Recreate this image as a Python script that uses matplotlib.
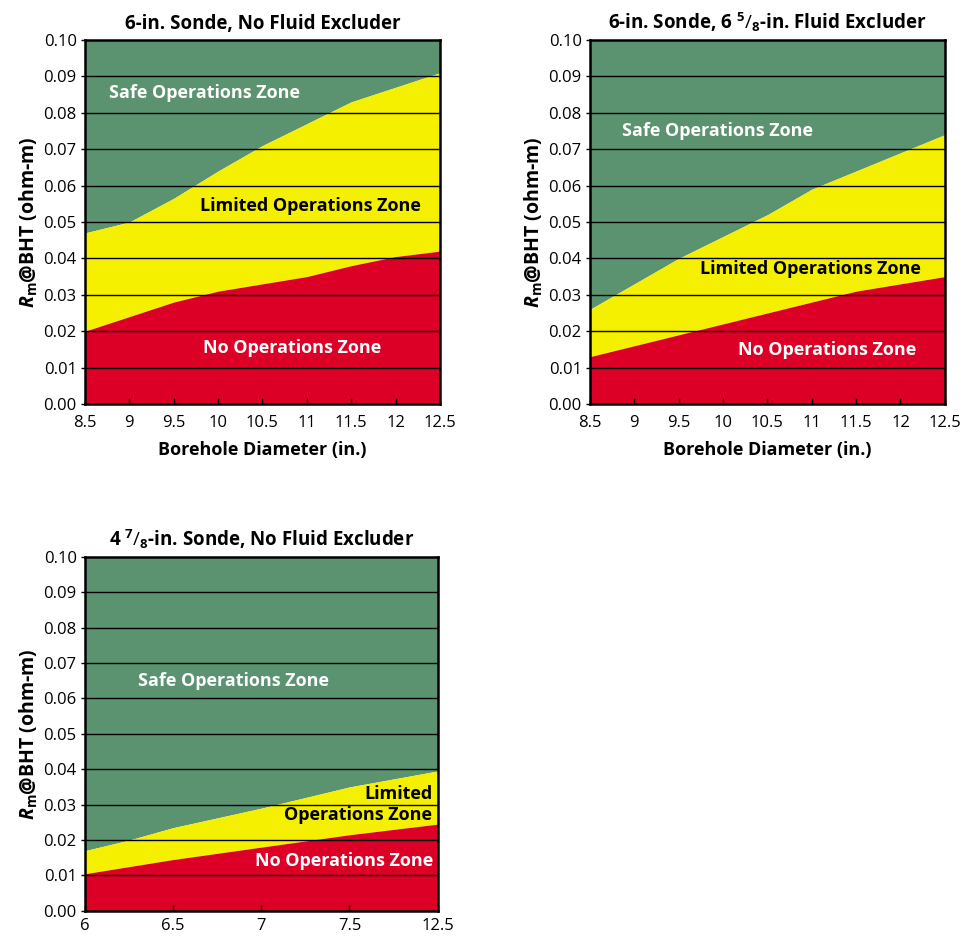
import numpy as np
import matplotlib.pyplot as plt

plt.rcParams['font.family'] = ['Open Sans', 'DejaVu Sans']
plt.rcParams['mathtext.fontset'] = 'custom'
plt.rcParams['mathtext.rm'] = 'Open Sans'
plt.rcParams['mathtext.it'] = 'Open Sans:italic'
plt.rcParams['mathtext.bf'] = 'Open Sans:bold'
plt.rcParams['mathtext.bfit'] = 'Open Sans:bold:italic'

green = '#5b9270'
yellow = '#f5f000'
red = '#dc0026'

# chart 1: 6-in. sonde, no fluid excluder
x1 = [8.5, 9.0, 9.5, 10.0, 10.5, 11.0, 11.5, 12.0, 12.5]
safe1 = [0.047, 0.050, 0.0565, 0.064, 0.071, 0.077, 0.083, 0.087, 0.091]
nogo1 = [0.020, 0.024, 0.028, 0.031, 0.033, 0.035, 0.038, 0.0405, 0.042]

# chart 2: 6-in. sonde, 6 5/8-in. fluid excluder
x2 = [8.5, 9.0, 9.5, 10.0, 10.5, 11.0, 11.5, 12.0, 12.5]
safe2 = [0.026, 0.033, 0.040, 0.046, 0.052, 0.059, 0.064, 0.069, 0.074]
nogo2 = [0.013, 0.016, 0.019, 0.022, 0.025, 0.028, 0.031, 0.033, 0.035]

# chart 3: 4 7/8-in. sonde (x labels as printed)
x3 = [6.0, 6.25, 6.5, 7.0, 7.5, 8.0]
safe3 = [0.017, 0.020, 0.0235, 0.029, 0.035, 0.0395]
nogo3 = [0.0105, 0.0125, 0.0145, 0.018, 0.0215, 0.0245]
x3_ticks = [6, 6.5, 7, 7.5, 8]
x3_labels = ['6', '6.5', '7', '7.5', '12.5']

x12_ticks = [8.5, 9, 9.5, 10, 10.5, 11, 11.5, 12, 12.5]
x12_labels = ['8.5', '9', '9.5', '10', '10.5', '11', '11.5', '12', '12.5']
y_ticks = np.arange(0, 0.1001, 0.01)

ylab = r'$\mathbfit{R}_\mathbf{m}$@BHT (ohm-m)'
bsize = 13

fig = plt.figure(figsize=(9.67, 9.41), dpi=100)


def zone_chart(ax, x, safe, nogo, title, xt, xl, xpad=8):
    ax.fill_between(x, safe, 0.1, color=green, lw=0)
    ax.fill_between(x, nogo, safe, color=yellow, lw=0)
    ax.fill_between(x, 0, nogo, color=red, lw=0)
    for v in y_ticks[1:-1]:
        ax.axhline(v, color='black', lw=1.0, zorder=3)
    ax.set_xlim(x[0], x[-1])
    ax.set_ylim(0, 0.1)
    ax.set_yticks(y_ticks)
    ax.set_yticklabels(['%.2f' % v for v in y_ticks])
    ax.set_xticks(xt)
    ax.set_xticklabels(xl)
    ax.tick_params(axis='x', direction='in', length=4, width=1, labelsize=12, pad=xpad)
    ax.tick_params(axis='y', direction='out', length=3, width=1, labelsize=12, pad=3)
    for s in ax.spines.values():
        s.set_linewidth(1.8)
        s.set_zorder(4)
    ax.set_title(title, fontsize=13.5, fontweight='bold', pad=8)
    ax.set_ylabel(ylab, fontsize=14, fontweight='bold', labelpad=3)


ax1 = fig.add_axes([0.0879, 0.5707, 0.367, 0.3868])
zone_chart(ax1, x1, safe1, nogo1, '6-in. Sonde, No Fluid Excluder', x12_ticks, x12_labels)
ax1.set_xlabel('Borehole Diameter (in.)', fontsize=bsize, fontweight='bold', labelpad=7)
ax1.text(9.85, 0.0855, 'Safe Operations Zone', color='white', fontsize=bsize,
         fontweight='bold', ha='center', va='center', zorder=5)
ax1.text(11.04, 0.0545, 'Limited Operations Zone', color='black', fontsize=bsize,
         fontweight='bold', ha='center', va='center', zorder=5)
ax1.text(10.83, 0.0155, 'No Operations Zone', color='white', fontsize=bsize,
         fontweight='bold', ha='center', va='center', zorder=5)

ax2 = fig.add_axes([0.6101, 0.5707, 0.367, 0.3868])
zone_chart(ax2, x2, safe2, nogo2,
           r'6-in. Sonde, 6 $^{\mathbf{5}}/_{\mathbf{8}}$-in. Fluid Excluder',
           x12_ticks, x12_labels)
ax2.set_xlabel('Borehole Diameter (in.)', fontsize=bsize, fontweight='bold', labelpad=7)
ax2.text(9.94, 0.075, 'Safe Operations Zone', color='white', fontsize=bsize,
         fontweight='bold', ha='center', va='center', zorder=5)
ax2.text(10.99, 0.037, 'Limited Operations Zone', color='black', fontsize=bsize,
         fontweight='bold', ha='center', va='center', zorder=5)
ax2.text(11.17, 0.0148, 'No Operations Zone', color='white', fontsize=bsize,
         fontweight='bold', ha='center', va='center', zorder=5)

ax3 = fig.add_axes([0.0879, 0.032, 0.3647, 0.3764])
zone_chart(ax3, x3, safe3, nogo3,
           r'4 $^{\mathbf{7}}/_{\mathbf{8}}$-in. Sonde, No Fluid Excluder',
           x3_ticks, x3_labels, xpad=5)
ax3.text(6.84, 0.065, 'Safe Operations Zone', color='white', fontsize=bsize,
         fontweight='bold', ha='center', va='center', zorder=5)
ax3.text(7.97, 0.033, 'Limited', color='black', fontsize=bsize,
         fontweight='bold', ha='right', va='center', zorder=5)
ax3.text(7.97, 0.0272, 'Operations Zone', color='black', fontsize=bsize,
         fontweight='bold', ha='right', va='center', zorder=5)
ax3.text(7.975, 0.014, 'No Operations Zone', color='white', fontsize=bsize,
         fontweight='bold', ha='right', va='center', zorder=5)

plt.savefig('out.png', dpi=100)
